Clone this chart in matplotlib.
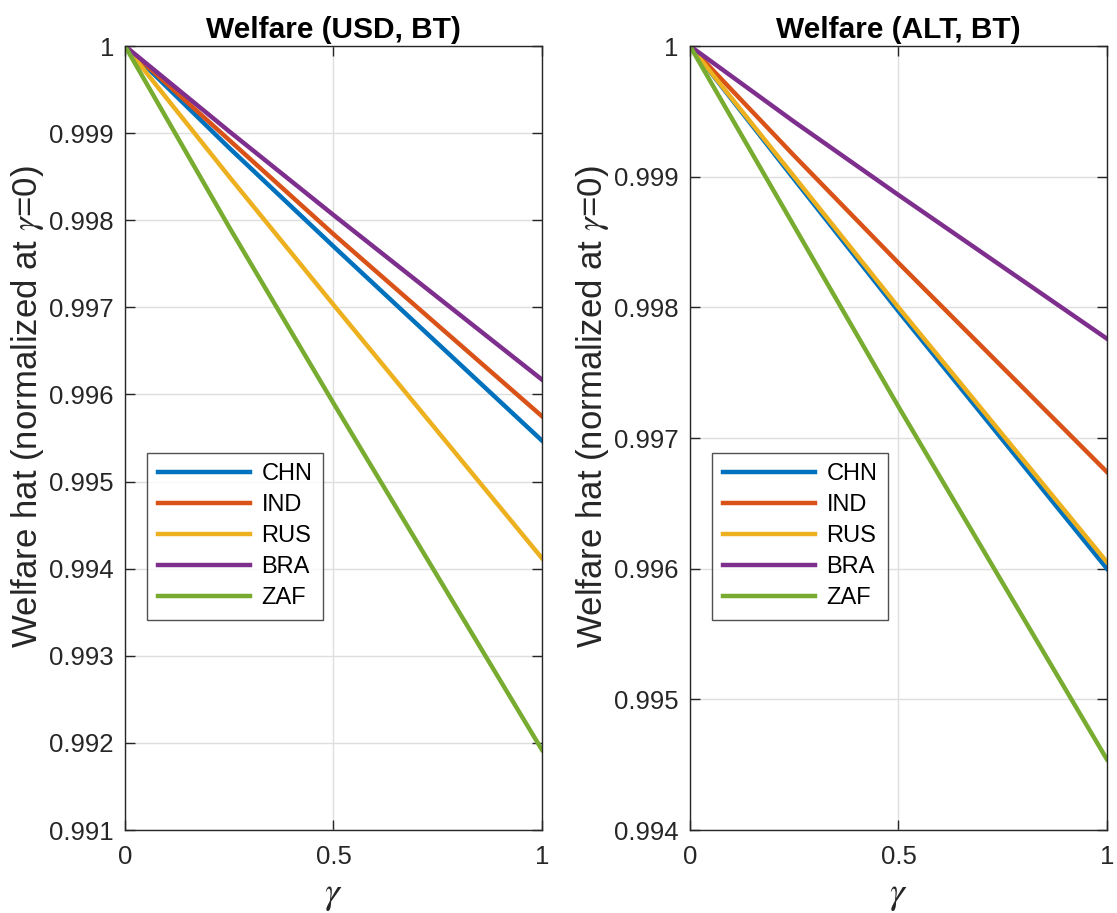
import numpy as np
import matplotlib
matplotlib.use('Agg')
import matplotlib.pyplot as plt
from matplotlib.ticker import FuncFormatter

plt.rcParams['font.family'] = ['Liberation Sans', 'DejaVu Sans']
plt.rcParams['mathtext.fontset'] = 'stix'

# values
countries = ['CHN', 'IND', 'RUS', 'BRA', 'ZAF']
colors = ['#0072BD', '#D95319', '#EDB120', '#7E2F8E', '#77AC30']

gamma_usd = [0, 0.25, 0.5, 1]
welfare_usd = {
    'CHN': [1.0, 0.99883, 0.99770, 0.99547],
    'IND': [1.0, 0.99892, 0.99784, 0.99575],
    'RUS': [1.0, 0.99850, 0.99703, 0.99412],
    'BRA': [1.0, 0.99902, 0.99806, 0.99617],
    'ZAF': [1.0, 0.99792, 0.99590, 0.99192],
}

gamma_alt = [0, 0.25, 0.5, 1]
welfare_alt = {
    'CHN': [1.0, 0.99898, 0.99797, 0.99600],
    'IND': [1.0, 0.99916, 0.99834, 0.99674],
    'RUS': [1.0, 0.99900, 0.99800, 0.99605],
    'BRA': [1.0, 0.99942, 0.99886, 0.99776],
    'ZAF': [1.0, 0.99862, 0.99724, 0.99454],
}

panels = [
    ('Welfare (USD, BT)', gamma_usd, welfare_usd, 0.991, [0.1119, 0.0909, 0.3733, 0.8587]),
    ('Welfare (ALT, BT)', gamma_alt, welfare_alt, 0.994, [0.6177, 0.0909, 0.3733, 0.8587]),
]

fmt = FuncFormatter(lambda v, p: '%g' % round(v, 3))

fig = plt.figure(figsize=(11.17, 9.13), dpi=100)

for title, g, data, ymin, rect in panels:
    ax = fig.add_axes(rect)
    for c, col in zip(countries, colors):
        ax.plot(g, data[c], color=col, lw=3.2, label=c)
    ax.set_xlim(0, 1)
    ax.set_ylim(ymin, 1)
    ax.set_xticks([0, 0.5, 1])
    ax.set_yticks(np.round(np.arange(ymin, 1.00001, 0.001), 3))
    ax.xaxis.set_major_formatter(fmt)
    ax.yaxis.set_major_formatter(fmt)
    ax.tick_params(direction='in', length=7, width=1, labelsize=18.5,
                   top=True, right=True, colors='#262626', labelcolor='#262626', pad=8)
    ax.tick_params(axis='x', pad=11)
    ax.grid(True, color='#dedede', lw=1)
    for s in ax.spines.values():
        s.set_color('#262626')
        s.set_linewidth(1)
    ax.set_title(title, fontsize=21.5, fontweight='bold', pad=6)
    ax.set_xlabel(r'$\gamma$', fontsize=27, color='#262626')
    ax.xaxis.set_label_coords(0.5, -0.06)
    ax.set_ylabel(r'Welfare hat (normalized at $\gamma$=0)', fontsize=25,
                  color='#262626')
    ax.yaxis.set_label_coords(-0.19, 0.54)
    leg = ax.legend(loc='lower left', bbox_to_anchor=(0.053, 0.268), fontsize=17,
                    handlelength=3.9, frameon=True, fancybox=False, borderpad=0.45,
                    labelspacing=0.38, handletextpad=0.5, borderaxespad=0)
    leg.get_frame().set_edgecolor('#262626')
    leg.get_frame().set_linewidth(1)

fig.savefig('out.png', dpi=100)
